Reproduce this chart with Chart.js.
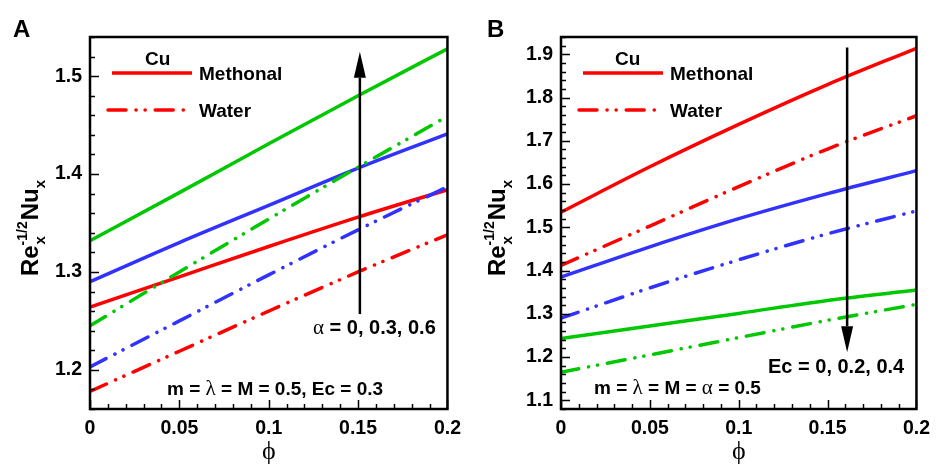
<!DOCTYPE html>
<html>
<head>
<meta charset="utf-8">
<script src="https://cdn.jsdelivr.net/npm/chart.js@4.4.0/dist/chart.umd.min.js"></script>
<style>
html, body { margin: 0; padding: 0; background: #fff; }
#wrap { position: relative; width: 938px; height: 464px; overflow: hidden; }
.panel { position: absolute; top: 0; width: 469px; height: 464px; }
</style>
</head>
<body>
<div id="wrap">
  <div class="panel" style="left:0"><canvas id="chartA" width="469" height="464"></canvas></div>
  <div class="panel" style="left:469px"><canvas id="chartB" width="469" height="464"></canvas></div>
</div>
<script>
// x values (nanoparticle volume fraction phi)
const phi = [0, 0.05, 0.1, 0.15, 0.2];

// Panel A: alpha = 0 (red), 0.3 (blue), 0.6 (green)
const A_meth_a0  = [1.264, 1.295, 1.326, 1.356, 1.384];
const A_meth_a03 = [1.290, 1.330, 1.368, 1.406, 1.441];
const A_meth_a06 = [1.332, 1.381, 1.431, 1.480, 1.528];
const A_water_a0  = [1.178, 1.219, 1.260, 1.300, 1.338];
const A_water_a03 = [1.203, 1.250, 1.297, 1.343, 1.387];
const A_water_a06 = [1.245, 1.300, 1.354, 1.407, 1.459];

// Panel B: Ec = 0 (red), 0.2 (blue), 0.4 (green)
const B_meth_ec0  = [1.535, 1.640, 1.738, 1.830, 1.914];
const B_meth_ec02 = [1.385, 1.455, 1.520, 1.578, 1.631];
const B_meth_ec04 = [1.243, 1.272, 1.301, 1.331, 1.355];
const B_water_ec0  = [1.412, 1.503, 1.594, 1.681, 1.758];
const B_water_ec02 = [1.290, 1.360, 1.425, 1.485, 1.538];
const B_water_ec04 = [1.165, 1.205, 1.245, 1.285, 1.322];

// axis ranges
const xRange = [0, 0.2];
const yRangeA = [1.16, 1.54];
const yRangeB = [1.08, 1.94];

const RED = '#ff0000';
const BLUE = '#3232ff';
const GREEN = '#00c800';
const DASH = [18, 10, 0.1, 9, 0.1, 10];
const SANS = '"Liberation Sans", Arial, sans-serif';
const SERIF = '"Liberation Serif", "Times New Roman", serif';

function series(vals, color, dashed) {
    return {
        data: phi.map((x, i) => ({ x: x, y: vals[i] })),
        borderColor: color,
        borderWidth: 3.5,
        borderDash: dashed ? DASH : [],
        borderCapStyle: dashed ? 'round' : 'butt',
        pointRadius: 0,
        cubicInterpolationMode: 'monotone',
        fill: false
    };
}

// draw pieces of text one after another on the same baseline
function drawParts(ctx, parts, x, y) {
    let cx = x;
    parts.forEach(p => {
        ctx.font = p.font;
        ctx.fillText(p.t, cx, y + (p.dy || 0));
        cx += ctx.measureText(p.t).width;
    });
}

function drawArrow(ctx, x, y0, y1) {
    const dir = y1 < y0 ? -1 : 1;
    const head = 26;
    ctx.beginPath();
    ctx.moveTo(x, y0);
    ctx.lineTo(x, y1 - dir * head);
    ctx.lineWidth = 2.5;
    ctx.strokeStyle = '#000';
    ctx.stroke();
    ctx.beginPath();
    ctx.moveTo(x, y1);
    ctx.lineTo(x - 6, y1 - dir * head);
    ctx.lineTo(x + 6, y1 - dir * head);
    ctx.closePath();
    ctx.fillStyle = '#000';
    ctx.fill();
}

const framePlugin = {
    id: 'frame',
    afterDraw(chart, args, opts) {
        const ctx = chart.ctx;
        const a = chart.chartArea;
        const xs = chart.scales.x, ys = chart.scales.y;
        ctx.save();

        // inward ticks
        ctx.strokeStyle = '#000';
        ctx.lineWidth = 1.5;
        ys.ticks.forEach(t => {
            const major = Math.abs(t.value * 10 - Math.round(t.value * 10)) < 1e-6;
            const py = Math.round(ys.getPixelForValue(t.value)) + 0.5;
            ctx.beginPath();
            ctx.moveTo(a.left, py);
            ctx.lineTo(a.left + (major ? 9 : 5), py);
            ctx.stroke();
        });
        xs.ticks.forEach(t => {
            const major = Math.abs(t.value * 20 - Math.round(t.value * 20)) < 1e-6;
            const px = Math.round(xs.getPixelForValue(t.value)) + 0.5;
            ctx.beginPath();
            ctx.moveTo(px, a.bottom);
            ctx.lineTo(px, a.bottom - (major ? 9 : 5));
            ctx.stroke();
        });

        // box
        ctx.lineWidth = 2.5;
        ctx.strokeRect(a.left, a.top, a.right - a.left, a.bottom - a.top);

        // arrow
        drawArrow(ctx, xs.getPixelForValue(opts.arrow.x),
            ys.getPixelForValue(opts.arrow.from), ys.getPixelForValue(opts.arrow.to));

        ctx.fillStyle = '#000';
        ctx.textBaseline = 'alphabetic';
        ctx.textAlign = 'left';

        // panel letter
        ctx.font = 'bold 24px ' + SANS;
        ctx.fillText(opts.letter, opts.letterX, 37);

        // legend
        const lg = opts.legend;
        ctx.font = 'bold 19px ' + SANS;
        ctx.fillText('Cu', lg.cuX, 65);
        ctx.fillText('Methonal', lg.textX, 80);
        ctx.fillText('Water', lg.textX, 117);
        ctx.strokeStyle = RED;
        ctx.lineWidth = 3.5;
        ctx.beginPath();
        ctx.moveTo(lg.lineX, 73);
        ctx.lineTo(lg.lineX + 80, 73);
        ctx.stroke();
        ctx.setLineDash(DASH);
        ctx.lineCap = 'round';
        ctx.beginPath();
        ctx.moveTo(lg.lineX - 4, 110);
        ctx.lineTo(lg.lineX + 76, 110);
        ctx.stroke();
        ctx.setLineDash([]);
        ctx.lineCap = 'butt';

        // annotations
        ctx.fillStyle = '#000';
        opts.notes.forEach(n => drawParts(ctx, n.parts, n.x, n.y));

        // x title
        ctx.font = '26px ' + SERIF;
        ctx.textAlign = 'center';
        ctx.fillText('\u03D5', (a.left + a.right) / 2, 459);
        ctx.textAlign = 'left';

        // y title, rotated
        ctx.translate(opts.yTitleX, 228);
        ctx.rotate(-Math.PI / 2);
        const big = 'bold 24px ' + SANS;
        const sub = 'bold 15px ' + SANS;
        const sup = 'bold 14px ' + SANS;
        ctx.font = big; const wRe = ctx.measureText('Re').width;
        ctx.font = sup; const wSup = ctx.measureText('-1/2').width;
        ctx.font = big; const wNu = ctx.measureText('Nu').width;
        ctx.font = sub; const wX = ctx.measureText('x').width;
        let cx = -(wRe + wSup + 1 + wNu + wX) / 2;
        ctx.font = big; ctx.fillText('Re', cx, 0); cx += wRe;
        ctx.font = sub; ctx.fillText('x', cx + 1, 7);
        ctx.font = sup; ctx.fillText('-1/2', cx, -11); cx += wSup + 1;
        ctx.font = big; ctx.fillText('Nu', cx, 0); cx += wNu;
        ctx.font = sub; ctx.fillText('x', cx, 7);

        ctx.restore();
    }
};

function tickLabelX(v) {
    const r = Math.round(v * 20);
    return Math.abs(v * 20 - r) < 1e-6 ? String(+(r / 20).toFixed(2)) : '';
}
function tickLabelY(v) {
    const r = Math.round(v * 10);
    return Math.abs(v * 10 - r) < 1e-6 ? (r / 10).toFixed(1) : '';
}

function makePanel(id, datasets, yRange, axisWidth, rightPad, frame) {
    return new Chart(document.getElementById(id), {
        type: 'line',
        data: { datasets: datasets },
        options: {
            responsive: false,
            animation: false,
            layout: { padding: { left: 0, right: rightPad, top: 37, bottom: 0 } },
            plugins: { legend: { display: false }, tooltip: { enabled: false }, frame: frame },
            scales: {
                x: {
                    type: 'linear', min: xRange[0], max: xRange[1],
                    grid: { display: false, drawTicks: false },
                    border: { display: false },
                    ticks: {
                        stepSize: 0.01, autoSkip: false, maxRotation: 0, padding: 8,
                        color: '#000', font: { family: SANS, size: 19.5, weight: 'bold' },
                        callback: tickLabelX
                    },
                    afterFit(s) { s.height = 55; }
                },
                y: {
                    type: 'linear', min: yRange[0], max: yRange[1],
                    grid: { display: false, drawTicks: false },
                    border: { display: false },
                    ticks: {
                        stepSize: 0.02, autoSkip: false, padding: 8,
                        color: '#000', font: { family: SANS, size: 19.5, weight: 'bold' },
                        callback: tickLabelY
                    },
                    afterFit(s) { s.width = axisWidth; }
                }
            }
        },
        plugins: [framePlugin]
    });
}

const sym = '21px ' + SERIF;
const bold = 'bold 20px ' + SANS;
const boldM = 'bold 19px ' + SANS;

makePanel('chartA', [
    series(A_water_a0, RED, true),
    series(A_water_a03, BLUE, true),
    series(A_water_a06, GREEN, true),
    series(A_meth_a0, RED, false),
    series(A_meth_a03, BLUE, false),
    series(A_meth_a06, GREEN, false)
], yRangeA, 90, 16, {
    letter: 'A', letterX: 13, yTitleX: 38,
    arrow: { x: 0.151, from: 1.257, to: 1.525 },
    legend: { cuX: 145, lineX: 112, textX: 199 },
    notes: [
        { x: 313, y: 334, parts: [{ t: '\u03B1', font: sym }, { t: ' = 0, 0.3, 0.6', font: bold }] },
        { x: 167, y: 395, parts: [{ t: 'm = ', font: boldM }, { t: '\u03BB', font: sym }, { t: ' = M = 0.5, Ec = 0.3', font: boldM }] }
    ]
});

makePanel('chartB', [
    series(B_water_ec0, RED, true),
    series(B_water_ec02, BLUE, true),
    series(B_water_ec04, GREEN, true),
    series(B_meth_ec0, RED, false),
    series(B_meth_ec02, BLUE, false),
    series(B_meth_ec04, GREEN, false)
], yRangeB, 92, 14, {
    letter: 'B', letterX: 18, yTitleX: 36,
    arrow: { x: 0.161, from: 1.916, to: 1.211 },
    legend: { cuX: 146, lineX: 114, textX: 201 },
    notes: [
        { x: 299, y: 373, parts: [{ t: 'Ec = 0, 0.2, 0.4', font: bold }] },
        { x: 125, y: 394, parts: [{ t: 'm = ', font: boldM }, { t: '\u03BB', font: sym }, { t: ' = M = ', font: boldM }, { t: '\u03B1', font: sym }, { t: ' = 0.5', font: boldM }] }
    ]
});
</script>
</body>
</html>
